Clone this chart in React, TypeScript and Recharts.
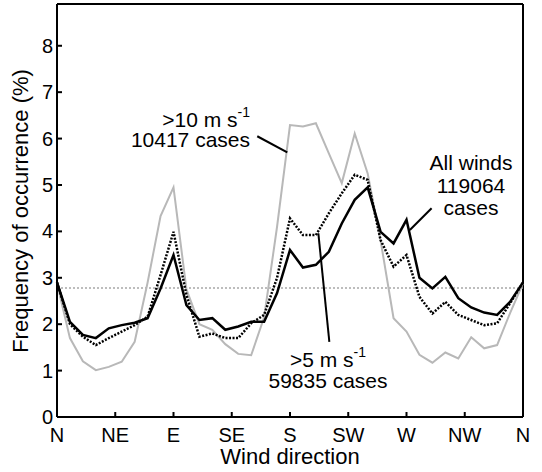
import React from 'react';
import { LineChart, Line, XAxis, YAxis, ReferenceLine } from 'recharts';

// wind direction in degrees, 10 degree bins, N to N
const directions = [
  0, 10, 20, 30, 40, 50, 60, 70, 80, 90, 100, 110, 120, 130, 140, 150, 160, 170, 180,
  190, 200, 210, 220, 230, 240, 250, 260, 270, 280, 290, 300, 310, 320, 330, 340, 350, 360,
];

// frequency of occurrence (%)
const allWinds = [
  2.9, 2.05, 1.77, 1.7, 1.91, 1.98, 2.03, 2.13, 2.77, 3.49, 2.41, 2.09, 2.13, 1.88, 1.95, 2.05, 2.05, 2.67, 3.6,
  3.22, 3.28, 3.56, 4.17, 4.68, 4.95, 3.99, 3.74, 4.25, 3.0, 2.77, 3.02, 2.56, 2.36, 2.25, 2.2, 2.48, 2.9,
];
const over5 = [
  2.9, 2.0, 1.73, 1.55, 1.7, 1.84, 1.98, 2.16, 3.06, 3.99, 2.63, 1.73, 1.8, 1.7, 1.7, 2.02, 2.2, 3.0, 4.28,
  3.92, 3.92, 4.39, 4.82, 5.22, 5.11, 3.81, 3.24, 3.49, 2.59, 2.23, 2.48, 2.2, 2.09, 1.98, 2.02, 2.45, 2.9,
];
const over10 = [
  2.88, 1.7, 1.2, 1.01, 1.08, 1.19, 1.62, 2.9, 4.33, 4.95, 2.75, 2.0, 1.88, 1.57, 1.36, 1.33, 2.15, 4.1, 6.29,
  6.26, 6.33, 5.68, 5.04, 6.11, 5.25, 3.8, 2.13, 1.84, 1.34, 1.17, 1.39, 1.26, 1.72, 1.48, 1.55, 2.24, 2.88,
];

const tickDegrees = [0, 45, 90, 135, 180, 225, 270, 315, 360];
const tickNames = ['N', 'NE', 'E', 'SE', 'S', 'SW', 'W', 'NW', 'N'];
const yTicks = [0, 1, 2, 3, 4, 5, 6, 7, 8];
const uniformLevel = 2.78; // 1/36 of all cases

const data = directions.map((d, i) => ({
  dir: d,
  all: allWinds[i],
  over5: over5[i],
  over10: over10[i],
}));

const font = '"Liberation Sans", Arial, sans-serif';

export default function App() {
  return (
    <div style={{ position: 'absolute', left: 0, top: 0, width: 542, height: 472, background: '#fff', fontFamily: font }}>
      <LineChart width={542} height={472} data={data} margin={{ top: 4, right: 19, bottom: 0, left: 0 }}>
        <XAxis
          dataKey="dir"
          type="number"
          domain={[0, 360]}
          ticks={tickDegrees}
          interval={0}
          tickFormatter={(v: number) => tickNames[tickDegrees.indexOf(v)]}
          height={55}
          tickSize={-5}
          tickMargin={16}
          axisLine={{ stroke: '#000', strokeWidth: 2 }}
          tickLine={{ stroke: '#000', strokeWidth: 2 }}
          tick={{ fontSize: 20, fill: '#000', fontFamily: font }}
        />
        <YAxis
          type="number"
          domain={[0, 8.9]}
          ticks={yTicks}
          interval={0}
          width={57}
          tickSize={-5}
          tickMargin={9}
          axisLine={{ stroke: '#000', strokeWidth: 2 }}
          tickLine={{ stroke: '#000', strokeWidth: 2 }}
          tick={{ fontSize: 20, fill: '#000', fontFamily: font }}
        />
        <ReferenceLine y={8.9} stroke="#000" strokeWidth={2} />
        <ReferenceLine x={360} stroke="#000" strokeWidth={2} />
        <ReferenceLine y={uniformLevel} stroke="#a8a8a8" strokeWidth={1.5} strokeDasharray="2 2" />
        <Line type="linear" dataKey="over10" stroke="#b8b8b8" strokeWidth={2} dot={false} isAnimationActive={false} />
        <Line type="linear" dataKey="over5" stroke="#000" strokeWidth={2.5} strokeDasharray="2 1.5" dot={false} isAnimationActive={false} />
        <Line type="linear" dataKey="all" stroke="#000" strokeWidth={2.5} dot={false} isAnimationActive={false} />
        <ReferenceLine segment={[{ x: 154.7, y: 6.05 }, { x: 177.9, y: 5.7 }]} stroke="#000" strokeWidth={2} />
        <ReferenceLine segment={[{ x: 201.9, y: 3.96 }, { x: 210.4, y: 1.62 }]} stroke="#000" strokeWidth={2} />
        <ReferenceLine segment={[{ x: 289.4, y: 4.5 }, { x: 272.6, y: 4.03 }]} stroke="#000" strokeWidth={2} />
      </LineChart>
      <svg width={542} height={472} style={{ position: 'absolute', left: 0, top: 0, pointerEvents: 'none' }} fontFamily={font} fill="#000">
        <text x={250} y={127} fontSize={21} textAnchor="end">
          &gt;10 m s<tspan fontSize={14} dy={-10}>-1</tspan>
        </text>
        <text x={250} y={147} fontSize={21} textAnchor="end">10417 cases</text>
        <text x={328} y={367} fontSize={21} textAnchor="middle">
          &gt;5 m s<tspan fontSize={14} dy={-10}>-1</tspan>
        </text>
        <text x={328} y={388} fontSize={21} textAnchor="middle">59835 cases</text>
        <text x={471} y={170} fontSize={21} textAnchor="middle">All winds</text>
        <text x={471} y={193} fontSize={21} textAnchor="middle">119064</text>
        <text x={471} y={215} fontSize={21} textAnchor="middle">cases</text>
        <text x={290} y={464} fontSize={22} textAnchor="middle">Wind direction</text>
        <text x={28} y={211} fontSize={22} textAnchor="middle" transform="rotate(-90 28 211)">
          Frequency of occurrence (%)
        </text>
      </svg>
    </div>
  );
}
